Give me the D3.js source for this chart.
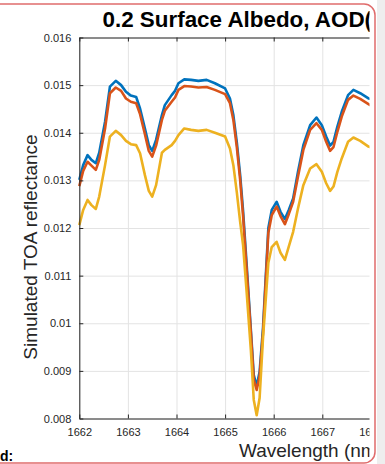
<!DOCTYPE html>
<html>
<head>
<meta charset="utf-8">
<script src="https://cdn.jsdelivr.net/npm/d3@7"></script>
<style>
  html, body { margin: 0; padding: 0; background: #fff; }
  svg { display: block; font-family: "Liberation Sans", Arial, Helvetica, sans-serif; }
</style>
</head>
<body>
<div id="chart"></div>
<script>
// wavelength samples (nm)
let wavelength = [1662.00,1662.08,1662.17,1662.25,1662.34,1662.41,1662.53,1662.63,1662.75,1662.86,
  1662.96,1663.06,1663.17,1663.25,1663.35,1663.43,1663.50,1663.58,1663.70,1663.76,
  1663.90,1663.97,1664.04,1664.16,1664.30,1664.45,1664.62,1664.79,1665.00,1665.10,
  1665.17,1665.24,1665.31,1665.37,1665.44,1665.53,1665.59,1665.65,1665.71,1665.78,
  1665.89,1665.96,1666.06,1666.14,1666.23,1666.31,1666.40,1666.50,1666.61,1666.75,
  1666.88,1666.99,1667.08,1667.16,1667.23,1667.31,1667.40,1667.53,1667.64,1667.78,
  1667.95,1668.00]

let blueVals = [0.01301,0.01332,0.01353,0.01343,0.01336,0.01358,0.01423,0.01497,0.01509,0.01500,
  0.01486,0.01478,0.01475,0.01451,0.01409,0.01374,0.01362,0.01385,0.01437,0.01458,
  0.01479,0.01488,0.01504,0.01512,0.01511,0.01509,0.01511,0.01504,0.01493,0.01472,
  0.01437,0.01381,0.01311,0.01236,0.01129,0.00986,0.00891,0.00868,0.00898,0.00990,
  0.01200,0.01238,0.01255,0.01234,0.01219,0.01238,0.01262,0.01318,0.01374,0.01416,
  0.01432,0.01416,0.01392,0.01373,0.01381,0.01413,0.01444,0.01479,0.01490,0.01483,
  0.01472,0.01471]

let orangeVals = [0.01288,0.01320,0.01339,0.01331,0.01322,0.01343,0.01409,0.01483,0.01495,0.01488,
  0.01472,0.01465,0.01462,0.01439,0.01397,0.01362,0.01350,0.01373,0.01427,0.01446,
  0.01465,0.01474,0.01490,0.01498,0.01497,0.01495,0.01496,0.01490,0.01481,0.01462,
  0.01427,0.01371,0.01301,0.01225,0.01118,0.00980,0.00881,0.00860,0.00889,0.00980,
  0.01190,0.01227,0.01245,0.01225,0.01208,0.01229,0.01255,0.01308,0.01364,0.01406,
  0.01420,0.01406,0.01381,0.01362,0.01370,0.01402,0.01434,0.01469,0.01478,0.01471,
  0.01460,0.01457]

let yellowVals = [0.01206,0.01238,0.01259,0.01248,0.01240,0.01266,0.01332,0.01392,0.01404,0.01395,
  0.01383,0.01376,0.01374,0.01357,0.01311,0.01278,0.01266,0.01290,0.01358,0.01364,
  0.01374,0.01383,0.01395,0.01409,0.01406,0.01404,0.01406,0.01400,0.01392,0.01367,
  0.01332,0.01276,0.01213,0.01164,0.01070,0.00944,0.00839,0.00807,0.00843,0.00969,
  0.01127,0.01160,0.01171,0.01148,0.01133,0.01161,0.01192,0.01241,0.01290,0.01325,
  0.01334,0.01318,0.01294,0.01278,0.01287,0.01318,0.01346,0.01381,0.01390,0.01383,
  0.01371,0.01369]

let xTicks = [1662,1663,1664,1665,1666,1667,1668]
let yTicks = [0.008,0.009,0.010,0.011,0.012,0.013,0.014,0.015,0.016]
let yTickLabels = ['0.008','0.009','0.01','0.011','0.012','0.013','0.014','0.015','0.016']
let seriesColors = ['#0072BD','#D95319','#EDB120']

let w=385, h=464
let pLeft=79.3, pRight=370.9, pTop=37.5, pBottom=418.5
let axisCol='#262626'

let svg=d3.select('#chart').append('svg').attr('width',w).attr('height',h)

// grey strip right of the panel + red rounded panel border
svg.append('rect').attr('x',377).attr('y',0).attr('width',w-377).attr('height',h).attr('fill','#eeeeee')
svg.append('rect').attr('x',-20).attr('y',4).attr('width',395).attr('height',459)
  .attr('rx',11).attr('fill','#fff').attr('stroke','#e06c6c').attr('stroke-width',1.5)

svg.append('defs').append('clipPath').attr('id','clip')
  .append('rect').attr('x',0).attr('y',0).attr('width',369.5).attr('height',h)

let g=svg.append('g').attr('clip-path','url(#clip)')

let x=d3.scaleLinear().domain([1662,1668]).range([pLeft,pRight])
let y=d3.scaleLinear().domain([0.008,0.016]).range([pBottom,pTop])

// grid
g.append('g').attr('transform','translate(0,'+pBottom+')')
  .call(d3.axisBottom(x).tickValues(xTicks).tickSize(-(pBottom-pTop)).tickFormat(''))
  .call(s=>{s.select('.domain').remove(); s.selectAll('line').attr('stroke','#e3e3e3')})
g.append('g').attr('transform','translate('+pLeft+',0)')
  .call(d3.axisLeft(y).tickValues(yTicks).tickSize(-(pRight-pLeft)).tickFormat(''))
  .call(s=>{s.select('.domain').remove(); s.selectAll('line').attr('stroke','#e3e3e3')})

// lines
let series=[blueVals,orangeVals,yellowVals]
let line=d3.line().x((d,i)=>x(wavelength[i])).y(d=>y(d))
series.forEach((vals,k)=>{
  g.append('path').datum(vals).attr('d',line).attr('fill','none')
    .attr('stroke',seriesColors[k]).attr('stroke-width',2.6)
    .attr('stroke-linejoin','round')
})

// axes (ticks inward)
let xAxis=d3.axisBottom(x).tickValues(xTicks).tickSize(-4).tickSizeOuter(0).tickPadding(10).tickFormat(d3.format('d'))
let gx=g.append('g').attr('transform','translate(0,'+pBottom+')').call(xAxis)
let gt=g.append('g').attr('transform','translate(0,'+pTop+')')
  .call(d3.axisTop(x).tickValues(xTicks).tickSize(-4).tickSizeOuter(0).tickFormat(''))
let yAxis=d3.axisLeft(y).tickValues(yTicks).tickSize(-4).tickSizeOuter(0).tickPadding(8)
  .tickFormat((d,i)=>yTickLabels[i])
let gy=g.append('g').attr('transform','translate('+pLeft+',0)').call(yAxis)
;[gx,gt,gy].forEach(a=>{
  a.select('.domain').attr('stroke',axisCol)
  a.selectAll('line').attr('stroke',axisCol)
  a.selectAll('text').attr('fill',axisCol).style('font-size','11px')
    .style('font-family','"Liberation Sans", Arial, sans-serif')
})

// labels
g.append('text').text('0.2 Surface Albedo, AOD(').attr('x',102.5).attr('y',27)
  .style('font-size','22.4px').style('font-weight','bold').attr('fill','#000')
g.append('text').text('Wavelength (nm)').attr('x',239).attr('y',457)
  .style('font-size','19px').attr('fill',axisCol)
g.append('text').text('Simulated TOA reflectance')
  .attr('transform','translate(37,247) rotate(-90)').attr('text-anchor','middle')
  .style('font-size','19px').attr('fill',axisCol)

svg.append('text').text('d:').attr('x',0).attr('y',461)
  .style('font-size','14px').style('font-weight','bold').attr('fill','#000')
</script>
</body>
</html>
